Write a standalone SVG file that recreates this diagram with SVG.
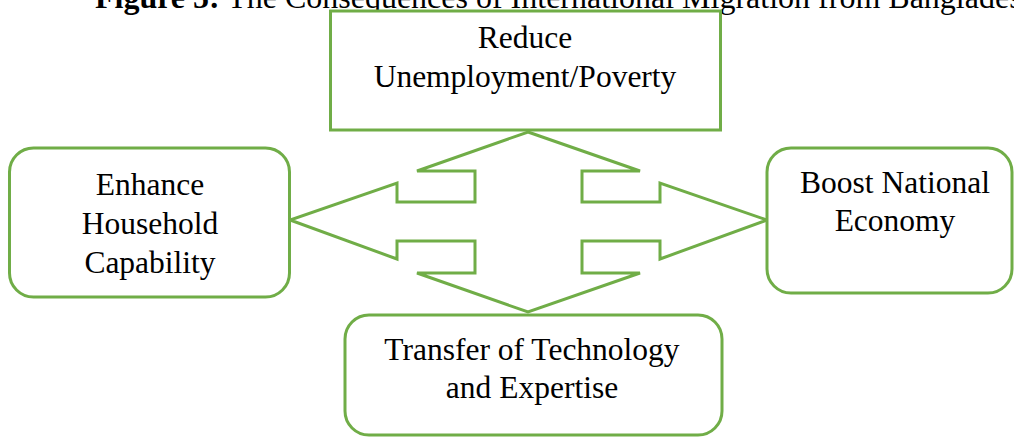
<svg xmlns="http://www.w3.org/2000/svg" width="1014" height="437" viewBox="0 0 1014 437">
<style>
.box{fill:#ffffff;stroke:#70AD47;stroke-width:3}
.lbl{font-family:"Liberation Serif","Times New Roman",serif;font-size:31.5px;fill:#000;text-anchor:middle}
.title{font-family:"Liberation Serif","Times New Roman",serif;font-size:32px;fill:#000}
.conn{fill:#ffffff;stroke:#70AD47;stroke-width:3;stroke-linejoin:miter}
</style>
<rect width="1014" height="437" fill="#ffffff"/>
<text class="title" x="95" y="8"><tspan font-weight="bold">Figure 5:</tspan> The Consequences of International Migration from Bangladesh</text>
<g id="connectors">
<polygon class="conn" points="528,132 640,171 582,171 582,202 660,202 660,183 767,220 660,259 660,241 582,241 582,273 640,273 528,312 417,273 475,273 475,241 397,241 397,259 290,220 397,183 397,202 475,202 475,171 417,171"/>
</g>
<g id="node-reduce">
<rect class="box" x="330.5" y="11" width="390" height="119"/>
<text class="lbl" x="525" y="48">Reduce</text>
<text class="lbl" x="525" y="87">Unemployment/Poverty</text>
</g>
<g id="node-enhance">
<rect class="box" x="9.5" y="148" width="280" height="149" rx="24"/>
<text class="lbl" x="150" y="195">Enhance</text>
<text class="lbl" x="150" y="234">Household</text>
<text class="lbl" x="150" y="273">Capability</text>
</g>
<g id="node-boost">
<rect class="box" x="767" y="148" width="245" height="145" rx="24"/>
<text class="lbl" x="895" y="193">Boost National</text>
<text class="lbl" x="895" y="231">Economy</text>
</g>
<g id="node-transfer">
<rect class="box" x="345" y="315" width="377" height="120" rx="24"/>
<text class="lbl" x="532" y="360">Transfer of Technology</text>
<text class="lbl" x="532" y="398">and Expertise</text>
</g>
</svg>
